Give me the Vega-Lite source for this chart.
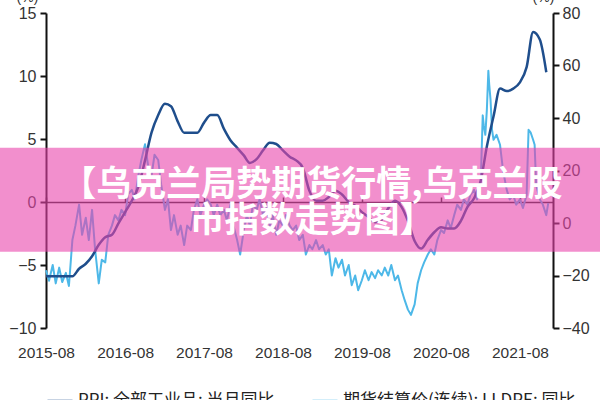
{
  "$schema": "https://vega.github.io/schema/vega-lite/v6.json",
  "width": 507,
  "height": 315,
  "autosize": {"type": "none"},
  "padding": {"left": 46, "top": 13, "right": 47, "bottom": 72},
  "background": "white",
  "config": {"view": {"stroke": null}, "font": "Liberation Sans"},
  "datasets": {
    "ppi": [
      {"date": "2015-08-01", "v": -5.9}, {"date": "2015-09-01", "v": -5.9}, {"date": "2015-10-01", "v": -5.9}, {"date": "2015-11-01", "v": -5.9}, {"date": "2015-12-01", "v": -5.9},
      {"date": "2016-01-01", "v": -5.3}, {"date": "2016-02-01", "v": -4.9}, {"date": "2016-03-01", "v": -4.3}, {"date": "2016-04-01", "v": -3.4}, {"date": "2016-05-01", "v": -2.8}, {"date": "2016-06-01", "v": -2.6},
      {"date": "2016-07-01", "v": -1.7}, {"date": "2016-08-01", "v": -0.8}, {"date": "2016-09-01", "v": 0.1}, {"date": "2016-10-01", "v": 1.2}, {"date": "2016-11-01", "v": 3.3}, {"date": "2016-12-01", "v": 5.5},
      {"date": "2017-01-01", "v": 6.9}, {"date": "2017-02-01", "v": 7.8}, {"date": "2017-03-01", "v": 7.6}, {"date": "2017-04-01", "v": 6.4}, {"date": "2017-05-01", "v": 5.5}, {"date": "2017-06-01", "v": 5.5},
      {"date": "2017-07-01", "v": 5.5}, {"date": "2017-08-01", "v": 6.3}, {"date": "2017-09-01", "v": 6.9}, {"date": "2017-10-01", "v": 6.9}, {"date": "2017-11-01", "v": 5.8}, {"date": "2017-12-01", "v": 4.9},
      {"date": "2018-01-01", "v": 4.3}, {"date": "2018-02-01", "v": 3.7}, {"date": "2018-03-01", "v": 3.1}, {"date": "2018-04-01", "v": 3.4}, {"date": "2018-05-01", "v": 4.1}, {"date": "2018-06-01", "v": 4.7},
      {"date": "2018-07-01", "v": 4.6}, {"date": "2018-08-01", "v": 4.1}, {"date": "2018-09-01", "v": 3.6}, {"date": "2018-10-01", "v": 3.3}, {"date": "2018-11-01", "v": 2.7}, {"date": "2018-12-01", "v": 0.9},
      {"date": "2019-01-01", "v": 0.1}, {"date": "2019-02-01", "v": 0.1}, {"date": "2019-03-01", "v": 0.4}, {"date": "2019-04-01", "v": 0.9}, {"date": "2019-05-01", "v": 0.6}, {"date": "2019-06-01", "v": 0.0},
      {"date": "2019-07-01", "v": -0.3}, {"date": "2019-08-01", "v": -0.8}, {"date": "2019-09-01", "v": -1.2}, {"date": "2019-10-01", "v": -1.6}, {"date": "2019-11-01", "v": -1.4}, {"date": "2019-12-01", "v": -0.5},
      {"date": "2020-01-01", "v": 0.1}, {"date": "2020-02-01", "v": -0.4}, {"date": "2020-03-01", "v": -1.5}, {"date": "2020-04-01", "v": -3.1}, {"date": "2020-05-01", "v": -3.7}, {"date": "2020-06-01", "v": -3.0},
      {"date": "2020-07-01", "v": -2.4}, {"date": "2020-08-01", "v": -2.0}, {"date": "2020-09-01", "v": -2.1}, {"date": "2020-10-01", "v": -2.1}, {"date": "2020-11-01", "v": -1.5}, {"date": "2020-12-01", "v": -0.4},
      {"date": "2021-01-01", "v": 0.3}, {"date": "2021-02-01", "v": 1.7}, {"date": "2021-03-01", "v": 4.4}, {"date": "2021-04-01", "v": 6.8}, {"date": "2021-05-01", "v": 9.0}, {"date": "2021-06-01", "v": 8.8},
      {"date": "2021-07-01", "v": 9.0}, {"date": "2021-08-01", "v": 9.5}, {"date": "2021-09-01", "v": 10.7}, {"date": "2021-10-01", "v": 13.5}, {"date": "2021-11-01", "v": 12.9}, {"date": "2021-12-01", "v": 10.3}
    ],
    "lldpe": [
      {"date": "2015-08-01", "v": -18}, {"date": "2015-08-15", "v": -22}, {"date": "2015-09-01", "v": -16}, {"date": "2015-09-15", "v": -23}, {"date": "2015-10-01", "v": -17}, {"date": "2015-10-15", "v": -22.5},
      {"date": "2015-11-01", "v": -19}, {"date": "2015-11-15", "v": -24}, {"date": "2015-12-01", "v": -6.5}, {"date": "2015-12-15", "v": -1}, {"date": "2016-01-01", "v": 7}, {"date": "2016-01-15", "v": -4.5},
      {"date": "2016-02-01", "v": 2}, {"date": "2016-02-15", "v": -6.5}, {"date": "2016-03-01", "v": 5}, {"date": "2016-03-15", "v": -10}, {"date": "2016-04-01", "v": -23}, {"date": "2016-04-15", "v": -14},
      {"date": "2016-05-01", "v": -15}, {"date": "2016-05-15", "v": -4.5}, {"date": "2016-06-01", "v": -1}, {"date": "2016-06-15", "v": 3}, {"date": "2016-07-01", "v": 1}, {"date": "2016-07-15", "v": 5},
      {"date": "2016-08-01", "v": 3}, {"date": "2016-08-15", "v": 11}, {"date": "2016-09-01", "v": 12.6}, {"date": "2016-09-15", "v": 9}, {"date": "2016-10-01", "v": 18}, {"date": "2016-10-15", "v": 24},
      {"date": "2016-11-01", "v": 30}, {"date": "2016-11-15", "v": 22}, {"date": "2016-12-01", "v": 18}, {"date": "2016-12-15", "v": 26}, {"date": "2017-01-01", "v": 24}, {"date": "2017-01-15", "v": 14.5},
      {"date": "2017-02-01", "v": 5}, {"date": "2017-02-15", "v": 9}, {"date": "2017-03-01", "v": -2.7}, {"date": "2017-03-15", "v": 3}, {"date": "2017-04-01", "v": -4.5}, {"date": "2017-04-15", "v": -1},
      {"date": "2017-05-01", "v": -8.4}, {"date": "2017-05-15", "v": -1}, {"date": "2017-06-01", "v": -2.7}, {"date": "2017-06-15", "v": 5}, {"date": "2017-07-01", "v": 9}, {"date": "2017-07-15", "v": 3},
      {"date": "2017-08-01", "v": 7}, {"date": "2017-08-15", "v": 9}, {"date": "2017-09-01", "v": 7}, {"date": "2017-09-15", "v": 3}, {"date": "2017-10-01", "v": 7}, {"date": "2017-10-15", "v": 3},
      {"date": "2017-11-01", "v": 5}, {"date": "2017-11-15", "v": 1}, {"date": "2017-12-01", "v": 7}, {"date": "2017-12-15", "v": -1}, {"date": "2018-01-01", "v": -6.5}, {"date": "2018-01-15", "v": -12},
      {"date": "2018-02-01", "v": -2.7}, {"date": "2018-02-15", "v": 3}, {"date": "2018-03-01", "v": -1}, {"date": "2018-03-15", "v": 7}, {"date": "2018-04-01", "v": 5}, {"date": "2018-04-15", "v": 9},
      {"date": "2018-05-01", "v": 3}, {"date": "2018-05-15", "v": 7}, {"date": "2018-06-01", "v": -1}, {"date": "2018-06-15", "v": 3}, {"date": "2018-07-01", "v": -4.5}, {"date": "2018-07-15", "v": 1},
      {"date": "2018-08-01", "v": -1}, {"date": "2018-08-15", "v": 3}, {"date": "2018-09-01", "v": -1}, {"date": "2018-09-15", "v": -2.7}, {"date": "2018-10-01", "v": -1}, {"date": "2018-10-15", "v": -6.5},
      {"date": "2018-11-01", "v": -4.5}, {"date": "2018-11-15", "v": -12}, {"date": "2018-12-01", "v": -8.4}, {"date": "2018-12-15", "v": -10}, {"date": "2019-01-01", "v": -6.5}, {"date": "2019-01-15", "v": -10},
      {"date": "2019-02-01", "v": -8.4}, {"date": "2019-02-15", "v": -12}, {"date": "2019-03-01", "v": -10}, {"date": "2019-03-15", "v": -20}, {"date": "2019-04-01", "v": -13.4}, {"date": "2019-04-15", "v": -17},
      {"date": "2019-05-01", "v": -14}, {"date": "2019-05-15", "v": -20}, {"date": "2019-06-01", "v": -16}, {"date": "2019-06-15", "v": -23.7}, {"date": "2019-07-01", "v": -20}, {"date": "2019-07-15", "v": -25.6},
      {"date": "2019-08-01", "v": -21.8}, {"date": "2019-08-15", "v": -18}, {"date": "2019-09-01", "v": -21.8}, {"date": "2019-09-15", "v": -18.7}, {"date": "2019-10-01", "v": -21}, {"date": "2019-10-15", "v": -18},
      {"date": "2019-11-01", "v": -20}, {"date": "2019-11-15", "v": -17}, {"date": "2019-12-01", "v": -20}, {"date": "2019-12-15", "v": -16}, {"date": "2020-01-01", "v": -21.8}, {"date": "2020-01-15", "v": -20},
      {"date": "2020-02-01", "v": -25.6}, {"date": "2020-02-15", "v": -29.4}, {"date": "2020-03-01", "v": -33}, {"date": "2020-03-15", "v": -35}, {"date": "2020-04-01", "v": -31}, {"date": "2020-04-15", "v": -23},
      {"date": "2020-05-01", "v": -18}, {"date": "2020-05-15", "v": -15}, {"date": "2020-06-01", "v": -12}, {"date": "2020-06-15", "v": -10}, {"date": "2020-07-01", "v": -12}, {"date": "2020-07-15", "v": -6.5},
      {"date": "2020-08-01", "v": -2.7}, {"date": "2020-08-15", "v": -3.8}, {"date": "2020-09-01", "v": 1}, {"date": "2020-09-15", "v": -2}, {"date": "2020-10-01", "v": 3}, {"date": "2020-10-15", "v": 7},
      {"date": "2020-11-01", "v": 5}, {"date": "2020-11-15", "v": 9}, {"date": "2020-12-01", "v": 7}, {"date": "2020-12-15", "v": 10.7}, {"date": "2021-01-01", "v": 12.6}, {"date": "2021-01-15", "v": 9},
      {"date": "2021-02-01", "v": 16}, {"date": "2021-02-10", "v": 41}, {"date": "2021-02-15", "v": 37}, {"date": "2021-02-22", "v": 33.6}, {"date": "2021-03-01", "v": 43}, {"date": "2021-03-08", "v": 58},
      {"date": "2021-03-12", "v": 52.7}, {"date": "2021-03-18", "v": 47}, {"date": "2021-03-25", "v": 35.5}, {"date": "2021-04-01", "v": 31.7}, {"date": "2021-04-15", "v": 33.6}, {"date": "2021-05-01", "v": 29.8},
      {"date": "2021-05-15", "v": 20}, {"date": "2021-06-01", "v": 12.6}, {"date": "2021-06-15", "v": 9}, {"date": "2021-07-01", "v": 10.7}, {"date": "2021-07-15", "v": 7}, {"date": "2021-08-01", "v": 9},
      {"date": "2021-08-15", "v": 5.7}, {"date": "2021-09-01", "v": 10.7}, {"date": "2021-09-10", "v": 35.5}, {"date": "2021-09-20", "v": 34.4}, {"date": "2021-10-01", "v": 31.7}, {"date": "2021-10-08", "v": 29.8},
      {"date": "2021-10-15", "v": 14.5}, {"date": "2021-11-01", "v": 9}, {"date": "2021-11-15", "v": 7}, {"date": "2021-12-01", "v": 3}, {"date": "2021-12-10", "v": 7.6}
    ],
    "banner": [{"date": "2014-06-01", "date2": "2023-01-01", "v": 4.31, "bottom": -3.94}],
    "caption": [
      {"date": "2018-12-13", "v": 1.37, "t": "【乌克兰局势期货行情,乌克兰股"},
      {"date": "2018-12-13", "v": -1.48, "t": "市指数走势图】"}
    ]
  },
  "encoding": {
    "x": {
      "field": "date",
      "type": "temporal",
      "scale": {"domain": [{"year": 2015, "month": 8, "date": 1}, {"year": 2022, "month": 1, "date": 1}], "nice": false},
      "axis": {
        "title": null,
        "grid": false,
        "values": [{"year": 2015, "month": 8, "date": 1}, {"year": 2016, "month": 8, "date": 1}, {"year": 2017, "month": 8, "date": 1}, {"year": 2018, "month": 8, "date": 1}, {"year": 2019, "month": 8, "date": 1}, {"year": 2020, "month": 8, "date": 1}, {"year": 2021, "month": 8, "date": 1}],
        "format": "%Y-%m",
        "labelFont": "Liberation Sans",
        "labelFontSize": 15.5,
        "labelColor": "#333333",
        "labelFlush": false,
        "labelOverlap": false,
        "offset": -126,
        "domainColor": "#222222",
        "domainWidth": 1.5,
        "tickColor": "#222222",
        "tickWidth": 1.5,
        "tickSize": -5,
        "labelPadding": 148
      }
    }
  },
  "layer": [
    {
      "data": {"name": "lldpe"},
      "mark": {"type": "line", "strokeWidth": 2, "strokeJoin": "round"},
      "encoding": {
        "y": {
          "field": "v",
          "type": "quantitative",
          "scale": {"domain": [-40, 80], "nice": false, "zero": false},
          "axis": {
            "orient": "right",
            "values": [-40, -20, 0, 20, 40, 60, 80],
            "grid": false,
            "labelFont": "Liberation Sans",
            "labelFontSize": 16,
            "labelColor": "#333333",
            "domainColor": "#111111",
            "domainWidth": 2,
            "tickColor": "#111111",
            "tickWidth": 2,
            "tickSize": 6,
            "labelPadding": 3,
            "title": "(%)",
            "titleAngle": 0,
            "titleX": -10,
            "titleY": -9,
            "titleAlign": "center",
            "titleBaseline": "bottom",
            "titleFontWeight": "normal",
            "titleFontSize": 14,
            "titleColor": "#333333"
          }
        },
        "color": {
          "datum": "期货结算价(连续): LLDPE: 同比",
          "type": "nominal",
          "scale": {"domain": ["PPI: 全部工业品: 当月同比", "期货结算价(连续): LLDPE: 同比"], "range": ["#1f4e8c", "#4db8e8"]},
          "legend": {
            "orient": "none",
            "legendX": 0,
            "legendY": 374,
            "direction": "horizontal",
            "title": null,
            "labelFont": "Noto Sans CJK SC",
            "labelFontSize": 17,
            "labelColor": "#222222",
            "labelLimit": 400,
            "symbolType": "stroke",
            "symbolStrokeWidth": 2.5,
            "symbolSize": 625,
            "columnPadding": 32
          }
        }
      }
    },
    {
      "layer": [
        {
          "data": {"name": "ppi"},
          "mark": {"type": "line", "strokeWidth": 2.5, "interpolate": "monotone"},
          "encoding": {
            "y": {
              "field": "v",
              "type": "quantitative",
              "scale": {"domain": [-10, 15], "nice": false, "zero": false},
              "axis": {
                "orient": "left",
                "values": [-10, -5, 0, 5, 10, 15],
                "grid": false,
                "labelFont": "Liberation Sans",
                "labelFontSize": 16,
                "labelColor": "#333333",
                "domainColor": "#111111",
                "domainWidth": 2,
                "tickColor": "#111111",
                "tickWidth": 2,
                "tickSize": 6,
                "labelPadding": 4,
                "title": "(%)",
                "titleAngle": 0,
                "titleX": -19,
                "titleY": -9,
                "titleAlign": "center",
                "titleBaseline": "bottom",
                "titleFontWeight": "normal",
                "titleFontSize": 14,
                "titleColor": "#333333"
              }
            },
            "color": {"datum": "PPI: 全部工业品: 当月同比", "type": "nominal"}
          }
        },
        {
          "data": {"name": "banner"},
          "mark": {"type": "rect", "color": "#e944ac", "opacity": 0.6},
          "encoding": {
            "x2": {"field": "date2"},
            "y": {
              "field": "v",
              "type": "quantitative",
              "scale": {"domain": [-10, 15], "nice": false, "zero": false},
              "axis": {
                "orient": "left",
                "values": [-10, -5, 0, 5, 10, 15],
                "grid": false,
                "labelFont": "Liberation Sans",
                "labelFontSize": 16,
                "labelColor": "#333333",
                "domainColor": "#111111",
                "domainWidth": 2,
                "tickColor": "#111111",
                "tickWidth": 2,
                "tickSize": 6,
                "labelPadding": 4,
                "title": "(%)",
                "titleAngle": 0,
                "titleX": -19,
                "titleY": -9,
                "titleAlign": "center",
                "titleBaseline": "bottom",
                "titleFontWeight": "normal",
                "titleFontSize": 14,
                "titleColor": "#333333"
              }
            },
            "y2": {"field": "bottom"}
          }
        },
        {
          "data": {"name": "caption"},
          "mark": {"type": "text", "color": "white", "font": "Noto Sans CJK SC", "fontWeight": "bold", "fontSize": 35, "align": "center", "baseline": "middle"},
          "encoding": {
            "y": {
              "field": "v",
              "type": "quantitative",
              "scale": {"domain": [-10, 15], "nice": false, "zero": false},
              "axis": {
                "orient": "left",
                "values": [-10, -5, 0, 5, 10, 15],
                "grid": false,
                "labelFont": "Liberation Sans",
                "labelFontSize": 16,
                "labelColor": "#333333",
                "domainColor": "#111111",
                "domainWidth": 2,
                "tickColor": "#111111",
                "tickWidth": 2,
                "tickSize": 6,
                "labelPadding": 4,
                "title": "(%)",
                "titleAngle": 0,
                "titleX": -19,
                "titleY": -9,
                "titleAlign": "center",
                "titleBaseline": "bottom",
                "titleFontWeight": "normal",
                "titleFontSize": 14,
                "titleColor": "#333333"
              }
            },
            "text": {"field": "t"}
          }
        }
      ]
    }
  ],
  "resolve": {"scale": {"y": "independent"}}
}
